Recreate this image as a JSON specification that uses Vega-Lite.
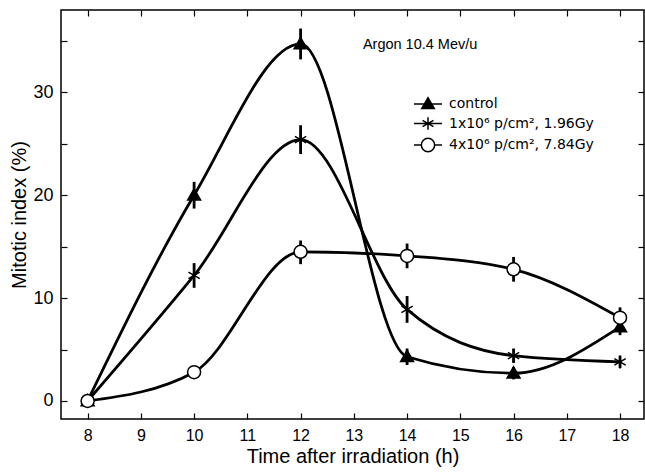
{
  "$schema": "https://vega.github.io/schema/vega-lite/v6.json",
  "width": 583,
  "height": 409,
  "autosize": {"type": "none"},
  "padding": {"left": 61, "top": 10, "right": 1, "bottom": 53},
  "background": "white",
  "config": {
    "view": {"stroke": "black", "strokeWidth": 1.5},
    "font": "Liberation Sans",
    "axis": {"domain": false, "grid": false, "tickColor": "black", "tickWidth": 1.2, "labelColor": "black", "titleColor": "black", "labelFont": "Liberation Sans", "titleFont": "Liberation Sans", "titleFontWeight": "normal"}
  },
  "data": {
    "values": [
      {"series": "control", "t": 8, "v": 0, "lo": 0, "hi": 0},
      {"series": "control", "t": 10, "v": 20.0, "lo": 18.7, "hi": 21.3},
      {"series": "control", "t": 12, "v": 34.7, "lo": 33.2, "hi": 36.2},
      {"series": "control", "t": 14, "v": 4.3, "lo": 3.5, "hi": 5.1},
      {"series": "control", "t": 16, "v": 2.7, "lo": 2.1, "hi": 3.3},
      {"series": "control", "t": 18, "v": 7.2, "lo": 6.4, "hi": 8.0},
      {"series": "1x10⁶ p/cm², 1.96Gy", "t": 8, "v": 0, "lo": 0, "hi": 0},
      {"series": "1x10⁶ p/cm², 1.96Gy", "t": 10, "v": 12.2, "lo": 11.0, "hi": 13.4},
      {"series": "1x10⁶ p/cm², 1.96Gy", "t": 12, "v": 25.4, "lo": 24.0, "hi": 26.8},
      {"series": "1x10⁶ p/cm², 1.96Gy", "t": 14, "v": 8.9, "lo": 7.6, "hi": 10.2},
      {"series": "1x10⁶ p/cm², 1.96Gy", "t": 16, "v": 4.4, "lo": 3.7, "hi": 5.1},
      {"series": "1x10⁶ p/cm², 1.96Gy", "t": 18, "v": 3.8, "lo": 3.2, "hi": 4.4},
      {"series": "4x10⁶ p/cm², 7.84Gy", "t": 8, "v": 0, "lo": 0, "hi": 0},
      {"series": "4x10⁶ p/cm², 7.84Gy", "t": 10, "v": 2.8, "lo": 2.8, "hi": 2.8},
      {"series": "4x10⁶ p/cm², 7.84Gy", "t": 12, "v": 14.5, "lo": 13.3, "hi": 15.6},
      {"series": "4x10⁶ p/cm², 7.84Gy", "t": 14, "v": 14.1, "lo": 12.9, "hi": 15.3},
      {"series": "4x10⁶ p/cm², 7.84Gy", "t": 16, "v": 12.8, "lo": 11.6, "hi": 14.0},
      {"series": "4x10⁶ p/cm², 7.84Gy", "t": 18, "v": 8.1, "lo": 7.1, "hi": 9.1}
    ]
  },
  "resolve": {"axis": {"x": "independent", "y": "independent"}, "scale": {"shape": "independent", "fill": "independent"}, "legend": {"shape": "independent", "fill": "independent"}},
  "layer": [
    {
      "mark": {"type": "line", "interpolate": "monotone", "stroke": "black", "strokeWidth": 2.8},
      "encoding": {
        "x": {"field": "t", "type": "quantitative", "scale": {"domain": [7.5, 18.45], "nice": false, "zero": false},
          "axis": {"orient": "bottom", "values": [8, 9, 10, 11, 12, 13, 14, 15, 16, 17, 18], "tickSize": -6, "labelPadding": 14, "labelFontSize": 16, "title": "Time after irradiation (h)", "titleFontSize": 20, "titlePadding": 3}},
        "y": {"field": "v", "type": "quantitative", "scale": {"domain": [-1.75, 38], "nice": false, "zero": false},
          "axis": {"orient": "left", "values": [0, 5, 10, 15, 20, 25, 30, 35], "labelExpr": "datum.value % 10 === 0 ? datum.label : ''", "tickSize": -6, "labelPadding": 14, "labelFontSize": 18, "title": "Mitotic index (%)", "titleFontSize": 20, "titlePadding": 3}},
        "detail": {"field": "series"}
      }
    },
    {
      "mark": {"type": "rule", "stroke": "black", "strokeWidth": 2.8},
      "encoding": {
        "x": {"field": "t", "type": "quantitative", "scale": {"domain": [7.5, 18.45], "nice": false, "zero": false},
          "axis": {"orient": "top", "values": [8, 9, 10, 11, 12, 13, 14, 15, 16, 17, 18], "tickSize": -6, "labels": false, "title": null}},
        "y": {"field": "lo", "type": "quantitative", "scale": {"domain": [-1.75, 38], "nice": false, "zero": false},
          "axis": {"orient": "right", "values": [0, 5, 10, 15, 20, 25, 30, 35], "tickSize": -6, "labels": false, "title": null}},
        "y2": {"field": "hi"}
      }
    },
    {
      "mark": {"type": "point", "filled": false, "stroke": "black", "strokeWidth": 1.5, "size": 169, "opacity": 1},
      "encoding": {
        "x": {"field": "t", "type": "quantitative", "axis": null},
        "y": {"field": "v", "type": "quantitative", "axis": null},
        "shape": {"field": "series", "type": "nominal",
          "scale": {"domain": ["control", "1x10⁶ p/cm², 1.96Gy", "4x10⁶ p/cm², 7.84Gy"],
            "range": ["M-1,0.75L0,-1L1,0.75Z", "M0,-1V1M-0.87,-0.5L0.87,0.5M-0.87,0.5L0.87,-0.5", "M1,0A1,1 0 1,1 -1,0A1,1 0 1,1 1,0Z"]},
          "legend": null},
        "fill": {"field": "series", "type": "nominal",
          "scale": {"domain": ["control", "1x10⁶ p/cm², 1.96Gy", "4x10⁶ p/cm², 7.84Gy"], "range": ["black", "black", "white"]},
          "legend": null}
      }
    },
    {
      "transform": [{"filter": "false"}],
      "mark": {"type": "point", "filled": false, "stroke": "black", "strokeWidth": 2.2, "size": 196, "opacity": 1},
      "encoding": {
        "shape": {"field": "series", "type": "nominal",
          "scale": {"domain": ["control", "1x10⁶ p/cm², 1.96Gy", "4x10⁶ p/cm², 7.84Gy"],
            "range": ["M-2,0H2M-0.9,0.65L0,-0.9L0.9,0.65Z", "M-2,0H2M0,-0.9V0.9M-0.78,-0.45L0.78,0.45M-0.78,0.45L0.78,-0.45", "M-2,0H-0.95M0.95,0H2M0.95,0A0.95,0.95 0 1,1 -0.95,0A0.95,0.95 0 1,1 0.95,0Z"]},
          "legend": {
            "orient": "none", "legendX": 359, "legendY": 86, "title": null,
            "symbolSize": 196, "labelFontSize": 14, "labelOffset": 13, "rowPadding": 1.5, "labelColor": "black", "labelFont": "DejaVu Sans",
            "encode": {"symbols": {"update": {"stroke": {"value": "black"}, "strokeWidth": {"value": 2.2}, "opacity": {"value": 1}}}}
          }},
        "fill": {"field": "series", "type": "nominal",
          "scale": {"domain": ["control", "1x10⁶ p/cm², 1.96Gy", "4x10⁶ p/cm², 7.84Gy"], "range": ["black", "transparent", "white"]},
          "legend": null}
      }
    },
    {
      "data": {"values": [{"label": "Argon 10.4 Mev/u"}]},
      "mark": {"type": "text", "align": "left", "baseline": "middle", "fontSize": 14.5, "font": "Liberation Sans", "color": "black"},
      "encoding": {
        "x": {"datum": 13.17, "type": "quantitative", "axis": null},
        "y": {"datum": 34.6, "type": "quantitative", "axis": null},
        "text": {"field": "label"}
      }
    }
  ]
}
